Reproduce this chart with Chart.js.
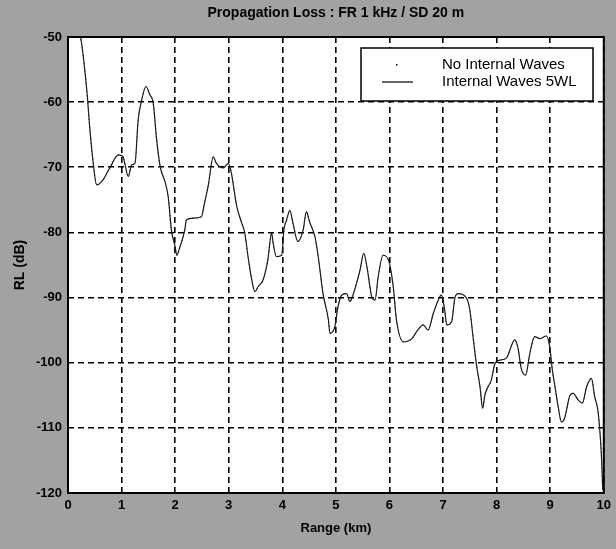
<!DOCTYPE html>
<html lang="en">
<head>
  <meta charset="UTF-8" />
  <title>Propagation Loss : FR 1 kHz / SD 20 m</title>
  <script src="https://cdn.jsdelivr.net/npm/chart.js"></script>
  <style>
    html, body { margin: 0; padding: 0; background: #a2a2a2; }
    #wrap { width: 616px; height: 549px; }
  </style>
</head>
<body>
  <div id="wrap"><canvas id="plChart" width="616" height="549"></canvas></div>
  <script>
    // range (km) and received level (dB)
    const rangeKm = [0, 0.15, 0.24, 0.35, 0.41, 0.47, 0.535, 0.63, 0.78, 0.94, 1.03, 1.06, 1.125, 1.19, 1.25,
      1.31, 1.375, 1.455, 1.53, 1.59, 1.655, 1.72, 1.81, 1.87, 1.93, 2.0, 2.03, 2.09, 2.18, 2.21, 2.34, 2.49,
      2.54, 2.62, 2.71, 2.77, 2.9, 2.99, 3.05, 3.08, 3.15, 3.24, 3.3, 3.36, 3.43, 3.49, 3.55, 3.64, 3.73, 3.8,
      3.83, 3.89, 3.99, 4.03, 4.08, 4.14, 4.2, 4.29, 4.39, 4.45, 4.51, 4.61, 4.67, 4.76, 4.86, 4.89, 4.98, 5.04,
      5.11, 5.2, 5.26, 5.35, 5.45, 5.52, 5.58, 5.67, 5.73, 5.79, 5.88, 5.98, 6.07, 6.13, 6.26, 6.42, 6.51, 6.63,
      6.72, 6.82, 6.91, 6.97, 7.03, 7.07, 7.16, 7.22, 7.28, 7.44, 7.5, 7.56, 7.62, 7.69, 7.74, 7.78, 7.84, 7.9,
      7.97, 8.06, 8.18, 8.34, 8.4, 8.46, 8.54, 8.62, 8.71, 8.81, 8.93, 8.99, 9.04, 9.09, 9.15, 9.21, 9.27, 9.37,
      9.43, 9.52, 9.6, 9.68, 9.77, 9.83, 9.89, 9.93, 9.96, 9.98];
    const levelIW = [-42, -47, -50.2, -58.1, -64.3, -69.3, -72.7, -72.2, -70.1, -68.1, -68.4, -69.4, -71.4, -69.6, -69.4,
      -62.7, -59.7, -57.6, -58.9, -60.1, -65.8, -69.9, -72.2, -74.5, -79.6, -82.2, -83.5, -82.2, -79.6, -78.1, -77.8, -77.6,
      -75.8, -72.7, -68.4, -69.4, -70.1, -69.4, -70.9, -72.4, -76.0, -78.5, -80.1, -83.7, -87.3, -89.1, -88.3, -87.3, -84.2, -80.1,
      -81.7, -83.7, -83.5, -79.6, -78.1, -76.6, -78.6, -81.4, -79.6, -76.8, -78.4, -80.7, -83.7, -89.4, -93.4, -95.5, -94.5, -91.4,
      -89.6, -89.4, -90.6, -88.8, -85.8, -83.2, -85.3, -89.9, -90.4, -86.8, -83.5, -84.2, -88.3, -93.4, -96.8, -96.3, -95.2, -94.2,
      -95.0, -92.4, -90.4, -89.6, -91.9, -94.2, -93.7, -90.1, -89.4, -90.1, -91.9, -96.0, -100.1, -103.7, -107.0, -105.0, -103.7, -102.7,
      -100.1, -99.6, -99.3, -96.5, -97.8, -100.9, -101.9, -98.6, -96.0, -96.3, -95.9, -97.5, -101.1, -103.7, -106.8, -109.1, -108.5, -105.0,
      -104.7, -105.7, -106.2, -103.7, -102.4, -105.2, -107.3, -110.8, -114.9, -119.5];
    // the dotted curve is lost in the scan; it runs under the solid one
    const levelNoIW = levelIW.slice();
    const xTicks = [0, 1, 2, 3, 4, 5, 6, 7, 8, 9, 10];
    const yTicks = [-50, -60, -70, -80, -90, -100, -110, -120];
    const seriesNames = ['No Internal Waves', 'Internal Waves 5WL'];

    const FONT = "'Liberation Sans', Arial, sans-serif";

    const paperPlugin = {
      id: 'paper',
      beforeDraw(chart) {
        const { ctx, chartArea: a } = chart;
        ctx.save();
        ctx.fillStyle = '#a2a2a2';
        ctx.fillRect(0, 0, chart.width, chart.height);
        ctx.fillStyle = '#ffffff';
        ctx.fillRect(a.left, a.top, a.right - a.left, a.bottom - a.top);
        ctx.restore();
      },
      afterDraw(chart) {
        const { ctx, chartArea: a } = chart;
        ctx.save();
        // frame
        ctx.strokeStyle = '#000';
        ctx.lineWidth = 2;
        ctx.strokeRect(a.left, a.top, a.right - a.left, a.bottom - a.top);
        // title
        ctx.fillStyle = '#000';
        ctx.font = 'bold 14px ' + FONT;
        ctx.textAlign = 'center';
        ctx.textBaseline = 'middle';
        ctx.fillText('Propagation Loss : FR 1 kHz / SD 20 m', (a.left + a.right) / 2, 13);
        // legend box
        const bx = 361, by = 48, bw = 232, bh = 53;
        ctx.fillStyle = '#fff';
        ctx.fillRect(bx, by, bw, bh);
        ctx.lineWidth = 1.5;
        ctx.strokeRect(bx, by, bw, bh);
        ctx.fillStyle = '#000';
        ctx.font = '15px ' + FONT;
        ctx.textAlign = 'left';
        ctx.fillText(seriesNames[0], 442, 65);
        ctx.fillText(seriesNames[1], 442, 82);
        ctx.fillRect(396, 64, 1.5, 1.5);
        ctx.beginPath();
        ctx.lineWidth = 1.2;
        ctx.moveTo(382, 82);
        ctx.lineTo(413, 82);
        ctx.stroke();
        ctx.restore();
      }
    };

    const gridOpts = { color: '#000', lineWidth: 1.6, drawTicks: false };
    const tickFont = { family: FONT, size: 13, weight: 'bold' };

    new Chart(document.getElementById('plChart'), {
      type: 'line',
      data: {
        datasets: [
          {
            label: seriesNames[0],
            data: rangeKm.map((x, i) => ({ x: x, y: levelNoIW[i] })),
            borderColor: '#222',
            borderWidth: 1,
            borderDash: [1, 3],
            pointRadius: 0,
            cubicInterpolationMode: 'monotone'
          },
          {
            label: seriesNames[1],
            data: rangeKm.map((x, i) => ({ x: x, y: levelIW[i] })),
            borderColor: '#1a1a1a',
            borderWidth: 1.2,
            pointRadius: 0,
            cubicInterpolationMode: 'monotone'
          }
        ]
      },
      options: {
        responsive: false,
        animation: false,
        layout: { padding: { top: 37, right: 12, left: 0, bottom: 0 } },
        plugins: { legend: { display: false }, tooltip: { enabled: false } },
        scales: {
          x: {
            type: 'linear',
            min: 0,
            max: 10,
            afterFit: s => { s.height = 56; },
            afterBuildTicks: s => { s.ticks = xTicks.map(v => ({ value: v })); },
            grid: gridOpts,
            border: { display: false, dash: [6, 4] },
            ticks: { color: '#000', font: tickFont, padding: 5, maxRotation: 0 },
            title: { display: true, text: 'Range (km)', color: '#000', font: { family: FONT, size: 13, weight: 'bold' }, padding: { top: 0, bottom: 13 } }
          },
          y: {
            min: -120,
            max: -50,
            afterFit: s => { s.width = 68; },
            afterBuildTicks: s => { s.ticks = yTicks.map(v => ({ value: v })); },
            grid: gridOpts,
            border: { display: false, dash: [6, 4] },
            ticks: { color: '#000', font: tickFont, padding: 6 },
            title: { display: true, text: 'RL (dB)', color: '#000', font: { family: FONT, size: 14, weight: 'bold' }, padding: { top: 12, bottom: 4 } }
          }
        }
      },
      plugins: [paperPlugin]
    });
  </script>
</body>
</html>
